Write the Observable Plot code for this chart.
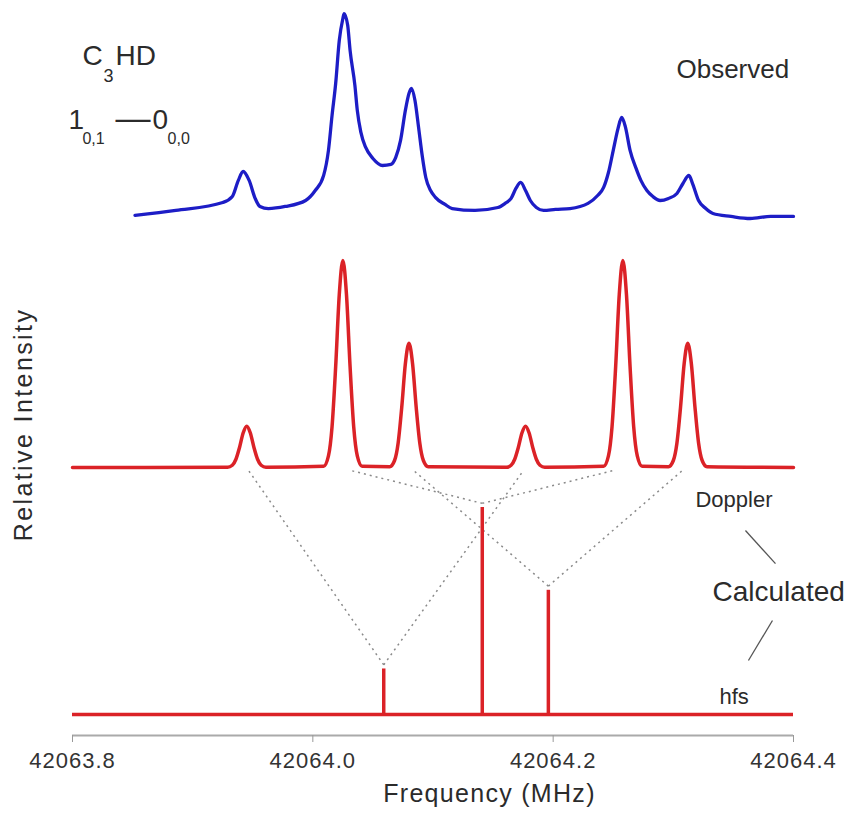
<!DOCTYPE html>
<html>
<head>
<meta charset="utf-8">
<script src="https://cdn.jsdelivr.net/npm/d3@7"></script>
<script src="https://cdn.jsdelivr.net/npm/@observablehq/plot@0.6"></script>
<style>
  html, body { margin: 0; padding: 0; background: #fff; }
  #chart svg { display: block; }
</style>
</head>
<body>
<div id="chart"></div>
<script>
// ---------- data ----------
const freqTicks = [42063.8, 42064.0, 42064.2, 42064.4];
const freqTickLabels = ["42063.8", "42064.0", "42064.2", "42064.4"];

// hyperfine stick spectrum
const hfsFreq = [42064.059, 42064.141, 42064.196];
const hfsIntensity = [0.22, 1.0, 0.6];

// calculated Doppler-doubled spectrum
const dopplerFreq = [42063.800,
  42063.929,42063.933,42063.936,42063.939,42063.942,42063.945,42063.948,42063.951,42063.954,42063.957,42063.961,
  42064.009,42064.013,42064.016,42064.019,42064.022,42064.025,42064.028,42064.031,42064.034,42064.037,42064.041,
  42064.064,42064.068,42064.071,42064.074,42064.077,42064.080,42064.083,42064.086,42064.089,42064.092,42064.096,
  42064.161,42064.165,42064.168,42064.171,42064.174,42064.177,42064.180,42064.183,42064.186,42064.189,42064.193,
  42064.242,42064.246,42064.249,42064.252,42064.255,42064.258,42064.261,42064.264,42064.267,42064.270,42064.274,
  42064.296,42064.300,42064.303,42064.306,42064.309,42064.312,42064.315,42064.318,42064.321,42064.324,42064.328,
  42064.400];
const dopplerIntensity = [0,
  0.001,0.011,0.040,0.097,0.167,0.200,0.167,0.097,0.040,0.011,0.001,
  0.006,0.056,0.198,0.487,0.835,1.000,0.835,0.487,0.198,0.056,0.006,
  0.004,0.034,0.119,0.292,0.501,0.600,0.501,0.292,0.119,0.034,0.004,
  0.001,0.011,0.040,0.097,0.167,0.200,0.167,0.097,0.040,0.011,0.001,
  0.006,0.056,0.198,0.487,0.835,1.000,0.835,0.487,0.198,0.056,0.006,
  0.004,0.034,0.119,0.292,0.501,0.600,0.501,0.292,0.119,0.034,0.004,
  0];

// observed spectrum
const obsFreq = [42063.852,42063.886,42063.925,42063.933,42063.938,42063.942,42063.947,42063.952,42063.956,42063.963,
  42063.977,42063.994,42064.002,42064.009,42064.013,42064.016,42064.019,42064.022,42064.025,42064.026,
  42064.029,42064.031,42064.035,42064.037,42064.040,42064.044,42064.050,42064.058,42064.065,42064.069,
  42064.073,42064.077,42064.080,42064.082,42064.085,42064.088,42064.091,42064.094,42064.098,42064.102,
  42064.110,42064.116,42064.135,42064.154,42064.160,42064.165,42064.169,42064.173,42064.177,42064.181,
  42064.186,42064.192,42064.202,42064.214,42064.229,42064.237,42064.242,42064.246,42064.250,42064.254,
  42064.257,42064.260,42064.264,42064.269,42064.273,42064.278,42064.283,42064.289,42064.296,42064.303,
  42064.308,42064.313,42064.316,42064.321,42064.327,42064.333,42064.348,42064.364,42064.381,42064.400];
const obsIntensity = [0.011,0.035,0.073,0.102,0.180,0.223,0.180,0.093,0.054,0.044,
  0.054,0.083,0.131,0.204,0.325,0.494,0.648,0.856,0.962,0.986,
  0.929,0.808,0.639,0.518,0.412,0.339,0.286,0.252,0.257,0.291,
  0.373,0.518,0.600,0.624,0.566,0.436,0.300,0.194,0.131,0.098,
  0.064,0.044,0.035,0.049,0.069,0.093,0.141,0.170,0.131,0.083,
  0.049,0.035,0.040,0.044,0.069,0.107,0.146,0.218,0.325,0.431,
  0.484,0.441,0.325,0.238,0.180,0.131,0.102,0.083,0.093,0.117,
  0.165,0.204,0.165,0.083,0.044,0.020,0.006,-0.004,0.006,0.006];

// dotted correspondence lines: hfs component -> Doppler doublet member
const linkHfsIndex = [0, 0, 1, 1, 2, 2];
const linkToFreq = [42063.9465, 42064.1753, 42064.0313, 42064.2502, 42064.0838, 42064.3076];

// ---------- layout constants ----------
const obsOffset = 2.40;
const dopplerOffset = 1.193;
const yMin = -0.1014, yMax = 3.449;
const red = "#db2227", blue = "#1d1dc6", ink = "#2b2b2b";
const font = "'Liberation Sans', Arial, Helvetica, sans-serif";

const obs = obsFreq.map((f, i) => ({f, v: obsIntensity[i]}));
const dop = dopplerFreq.map((f, i) => ({f, v: dopplerIntensity[i]}));
const hfs = hfsFreq.map((f, i) => ({f, v: hfsIntensity[i]}));
const links = linkHfsIndex.map((h, i) => ({
  x1: hfsFreq[h], y1: hfsIntensity[h] + 0.02,
  x2: linkToFreq[i], y2: dopplerOffset - 0.014
}));

// annotation texts (x in MHz, y in intensity units)
const labels = [
  {text: "Observed", x: 42064.3026, y: 3.117, size: 26, anchor: "start"},
  {text: "Doppler", x: 42064.3184, y: 1.034, size: 22, anchor: "start"},
  {text: "Calculated", x: 42064.3326, y: 0.594, size: 28, anchor: "start"},
  {text: "hfs", x: 42064.3384, y: 0.087, size: 22, anchor: "start"},
  {text: "C", x: 42063.8083, y: 3.179, size: 28, anchor: "start"},
  {text: "3", x: 42063.8258, y: 3.081, size: 18, anchor: "start"},
  {text: "HD", x: 42063.8358, y: 3.179, size: 28, anchor: "start"},
  {text: "1", x: 42063.7967, y: 2.874, size: 28, anchor: "start"},
  {text: "0,1", x: 42063.8083, y: 2.782, size: 16, anchor: "start"},
  {text: "—", x: 42063.8358, y: 2.879, size: 35, anchor: "start"},
  {text: "0", x: 42063.8666, y: 2.874, size: 28, anchor: "start"},
  {text: "0,0", x: 42063.8791, y: 2.782, size: 16, anchor: "start"},
  {text: "Frequency (MHz)", x: 42064.147, y: -0.3845, size: 25, anchor: "middle", ls: 1.3},
  {text: "Relative Intensity", x: 42063.760, y: 1.401, size: 25, anchor: "middle", rotate: -90, ls: 2.4}
];
const pointerLines = [
  {x1: 42064.3600, y1: 0.889, x2: 42064.3850, y2: 0.729},
  {x1: 42064.3825, y1: 0.454, x2: 42064.3625, y2: 0.261}
];

const chart = Plot.plot({
  width: 847,
  height: 814,
  marginLeft: 72,
  marginRight: 54,
  marginTop: 0,
  marginBottom: 79,
  style: {fontFamily: font, color: ink, background: "#fff", overflow: "visible"},
  x: {domain: [42063.8, 42064.4], axis: null},
  y: {domain: [yMin, yMax], axis: null},
  marks: [
    Plot.ruleY([yMin], {stroke: "#aaa", strokeWidth: 2}),
    Plot.axisX({ticks: freqTicks, tickFormat: d => freqTickLabels[freqTicks.indexOf(d)],
      tickSize: 7, tickPadding: 10, fontSize: 22, stroke: "#999", label: null}),
    Plot.link(links, {x1: "x1", y1: "y1", x2: "x2", y2: "y2", stroke: "#8a8a8a", strokeWidth: 1.5, strokeDasharray: "2,4"}),
    Plot.link(pointerLines, {x1: "x1", y1: "y1", x2: "x2", y2: "y2", stroke: "#555", strokeWidth: 1.3}),
    Plot.ruleY([0], {x1: 42063.8, x2: 42064.4, stroke: red, strokeWidth: 3.5}),
    Plot.ruleX(hfs, {x: "f", y1: 0, y2: "v", stroke: red, strokeWidth: 3.5}),
    Plot.line(dop, {x: "f", y: d => d.v + dopplerOffset, stroke: red, strokeWidth: 3.5, curve: "monotone-x"}),
    Plot.line(obs, {x: "f", y: d => d.v + obsOffset, stroke: blue, strokeWidth: 3.3, curve: "monotone-x"}),
    ...labels.map(a => Plot.text([a], {x: "x", y: "y", text: "text", fontSize: a.size, textAnchor: a.anchor,
      rotate: a.rotate || 0, fill: ink}))
  ]
});

document.getElementById("chart").appendChild(chart);
const svg = d3.select(chart);
svg.selectAll("text")
  .filter(function () { return freqTickLabels.includes(this.textContent); })
  .style("letter-spacing", "1px").attr("fill", "#333");
labels.filter(a => a.ls).forEach(a => {
  svg.selectAll("text")
    .filter(function () { return this.textContent === a.text; })
    .style("letter-spacing", a.ls + "px");
});
</script>
</body>
</html>
